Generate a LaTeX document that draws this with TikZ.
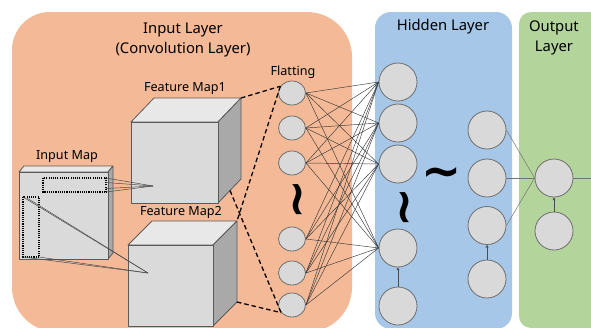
\documentclass[tikz,border=0pt]{standalone}
\usepackage{fontspec}
\setmainfont{Noto Sans}
\newfontfamily\symfont{DejaVu Sans}
\usetikzlibrary{arrows.meta,shapes.geometric}
\definecolor{panelO}{HTML}{F4B996}
\definecolor{panelB}{HTML}{A6C7E8}
\definecolor{panelG}{HTML}{B3D59C}
\definecolor{circF}{HTML}{D9D9D9}
\definecolor{circB}{HTML}{6E6E6E}
\definecolor{faceF}{HTML}{DADADA}
\definecolor{faceT}{HTML}{E8E8E8}
\definecolor{faceS}{HTML}{A9A9A9}
\definecolor{edgeC}{HTML}{5A5A5A}
\begin{document}
\begin{tikzpicture}[x=1pt,y=-1pt,
  neuron/.style={circle,draw=circB,fill=circF,line width=0.8pt,inner sep=0pt},
  flatn/.style={ellipse,draw=circB,fill=circF,line width=0.8pt,inner sep=0pt,minimum width=27pt,minimum height=24pt},
  hidn/.style={neuron,minimum size=38pt},
  conn/.style={draw=black!78,line width=0.45pt},
  outconn/.style={draw=black!55,line width=0.5pt},
  proj/.style={draw=black!70,line width=0.5pt},
  dashc/.style={draw=black,line width=1.3pt,dash pattern=on 4.5pt off 3pt},
  dotr/.style={draw=black,line width=1.1pt,dash pattern=on 1.1pt off 1.1pt},
  face/.style={draw=edgeC,line width=0.8pt,line join=round},
  lbl/.style={font=\fontsize{12.6}{14}\selectfont,inner sep=0pt},
  ttl/.style={font=\fontsize{14.8}{19.5}\selectfont,align=center,inner sep=0pt},
  tld/.style={font=\symfont\bfseries\fontsize{48}{48}\selectfont,inner sep=0pt},
  uparr/.style={draw=black!70,line width=0.5pt,-{Stealth[length=3pt,width=3pt]}}
]
\clip (0,0) rectangle (591,327);
% panels
\fill[panelO] (12,290) -- (12,50) .. controls (12,29) and (29,12) .. (50,12)
  -- (307,12) .. controls (332,12) and (352,32) .. (352,57)
  -- (352,287) .. controls (352,312) and (332,332) .. (307,332)
  -- (57,332) .. controls (32,332) and (12,312) .. (12,287) -- cycle;
\fill[panelB,rounded corners=16pt] (375,12) rectangle (512,329);
\fill[panelG,rounded corners=12pt] (519,12) rectangle (610,328);
% titles
\node[ttl] (tin) at (183,40) {Input Layer\\(Convolution Layer)};
\node[ttl] (thid) at (443,27) {Hidden Layer};
\node[ttl] (tout) at (554,38) {Output\\Layer};
% Input map cube
\filldraw[face,fill=faceT] (19,172) -- (24,166) -- (113,166) -- (108,172) -- cycle;
\filldraw[face,fill=faceS] (108,172) -- (113,166) -- (113,253) -- (108,259) -- cycle;
\filldraw[face,fill=faceF] (19,172) rectangle (108,259);
\node[lbl] (lim) at (67,157) {Input Map};
% Feature map 1
\filldraw[face,fill=faceT] (131,122) -- (154,98) -- (241,98) -- (218,122) -- cycle;
\filldraw[face,fill=faceS] (218,122) -- (241,98) -- (241,179) -- (218,203) -- cycle;
\filldraw[face,fill=faceF] (131,122) rectangle (218,203);
\node[lbl] (lf1) at (185,89) {Feature Map1};
% Feature map 2
\filldraw[face,fill=faceT] (128,245) -- (152,221) -- (237,221) -- (213,245) -- cycle;
\filldraw[face,fill=faceS] (213,245) -- (237,221) -- (237,302) -- (213,326) -- cycle;
\filldraw[face,fill=faceF] (128,245) rectangle (213,326);
\node[lbl] (lf2) at (181,212) {Feature Map2};
% receptive fields
\draw[dotr] (43,178) rectangle (106,192);
\draw[dotr] (23,197) rectangle (39,257);
\coordinate (ap1) at (153,186);
\coordinate (ap2) at (148,273);
\draw[proj] (106,178) -- (ap1);
\draw[proj] (106,182.5) -- (ap1);
\draw[proj] (106,188.5) -- (ap1);
\draw[proj] (106,192) -- (ap1);
\draw[proj] (23,197) -- (ap2);
\draw[proj] (27,198) -- (ap2);
\draw[proj] (23,257) -- (ap2);
\draw[proj] (39,257) -- (ap2);
% flatting neurons
\node[lbl] (lfl) at (293,72) {Flatting};
\foreach \n/\y in {1/93,2/128,3/163,4/239,5/273,6/305}
  \node[flatn] (f\n) at (292,\y) {};
\node[tld,rotate=-90] (tl1) at (292,200) {\char"007E};
% hidden column 1
\foreach \n/\y in {1/82,2/123,3/164,4/248,5/306}
  \node[hidn] (h\n) at (398,\y) {};
\node[tld,rotate=-90] (tl2) at (399,208) {\char"007E};
\node[tld] (tl3) at (442,178) {\char"007E};
% hidden column 2
\foreach \n/\y in {1/130,2/178,3/225.5,4/279}
  \node[hidn] (g\n) at (487,\y) {};
% output
\node[hidn] (o1) at (554,178) {};
\node[hidn] (o2) at (554,231) {};
\coordinate (oend) at (591,178);
% connections flatting -> hidden
\foreach \i in {1,...,6}
  \foreach \j in {1,...,4}
    \draw[conn] (f\i.east) -- (h\j.west);
% hidden col2 -> output
\foreach \j in {1,2,3}
  \draw[outconn] (g\j.east) -- (o1.west);
\draw[outconn] (o1.east) -- (oend);
% bias arrows
\draw[uparr] (h5.north) -- (h4.south);
\draw[uparr] (g4.north) -- (g3.south);
\draw[uparr] (o2.north) -- (o1.south);
% dashed lines
\coordinate (fm1tr) at (241,98);
\coordinate (fm1bs) at (230,190.5);
\coordinate (fm2tr) at (237,221);
\coordinate (fm2bs) at (237,302);
\draw[dashc] (fm1tr) -- (f1.150);
\draw[dashc] (f1.150) -- (fm2tr);
\draw[dashc] (fm1bs) -- (f6.215);
\draw[dashc] (fm2bs) -- (f6.215);
\end{tikzpicture}
\end{document}
